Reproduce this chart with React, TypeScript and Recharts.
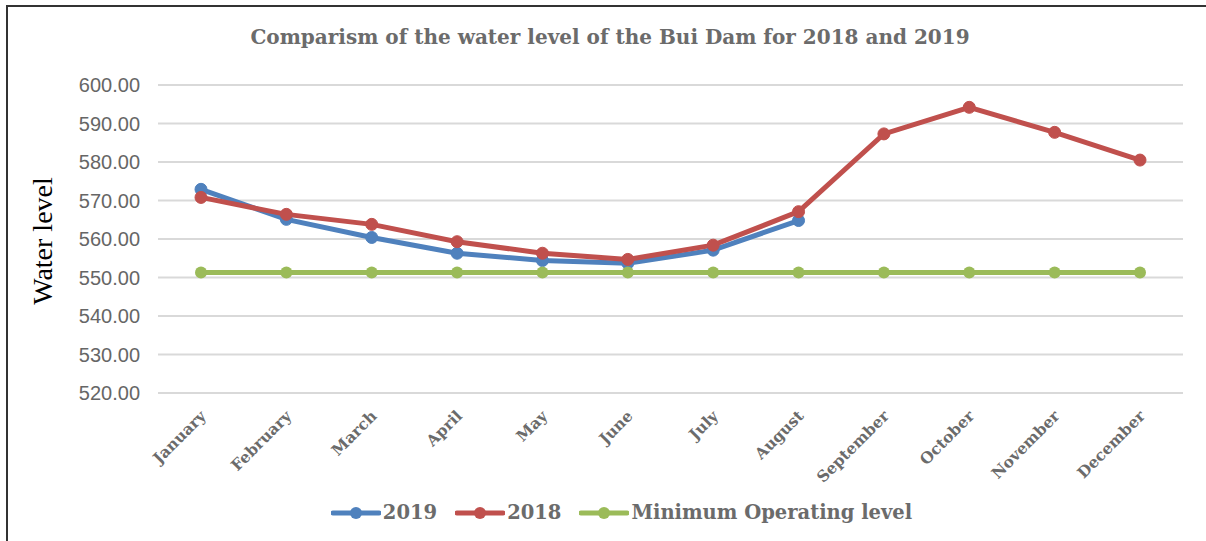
import { LineChart, Line, XAxis, YAxis, CartesianGrid, Legend } from "recharts";

const months = [
  "January", "February", "March", "April", "May", "June",
  "July", "August", "September", "October", "November", "December",
];
const level2019: (number | null)[] = [572.9, 565.1, 560.4, 556.3, 554.4, 553.7, 557.1, 564.8, null, null, null, null];
const level2018 = [570.8, 566.4, 563.8, 559.3, 556.3, 554.7, 558.4, 567.1, 587.3, 594.2, 587.7, 580.5];
const minOperating = [551.3, 551.3, 551.3, 551.3, 551.3, 551.3, 551.3, 551.3, 551.3, 551.3, 551.3, 551.3];
const yTicks = [520, 530, 540, 550, 560, 570, 580, 590, 600];
const seriesOrder = ["2019", "2018", "Minimum Operating level"];

const data = months.map((m, i) => ({
  month: m,
  y2019: level2019[i],
  y2018: level2018[i],
  minOp: minOperating[i],
}));

const serif = "'DejaVu Serif', serif";
const grey = "#6b6b6b";

function MonthTick(props: any) {
  const { x, y, payload } = props;
  return (
    <text
      x={x + 6}
      y={y + 16}
      transform={`rotate(-45, ${x + 6}, ${y + 16})`}
      textAnchor="end"
      fontFamily={serif}
      fontWeight="bold"
      fontSize={15.5}
      fill={grey}
    >
      {payload.value}
    </text>
  );
}

function YLabel(props: any) {
  const { viewBox } = props;
  const cx = viewBox.x + 52;
  const cy = viewBox.y + viewBox.height / 2 + 2;
  return (
    <text
      x={cx}
      y={cy}
      transform={`rotate(-90, ${cx}, ${cy})`}
      textAnchor="middle"
      fontFamily="'Liberation Serif', serif"
      fontSize={28}
      fill="#000"
    >
      Water level
    </text>
  );
}

function LegendRow(props: any) {
  const items = [...(props.payload || [])].sort(
    (a: any, b: any) => seriesOrder.indexOf(a.value) - seriesOrder.indexOf(b.value)
  );
  return (
    <div style={{ display: "flex", justifyContent: "center", alignItems: "center", paddingLeft: 37 }}>
      {items.map((p: any, i: number) => (
        <div
          key={p.value}
          style={{ display: "flex", alignItems: "center", marginRight: i < items.length - 1 ? 18 : 0 }}
        >
          <svg width={50} height={16}>
            <line x1={2} y1={8} x2={48} y2={8} stroke={p.color} strokeWidth={5} strokeLinecap="round" />
            <circle cx={25} cy={8} r={6} fill={p.color} />
          </svg>
          <span style={{ fontFamily: serif, fontWeight: "bold", fontSize: 19.5, color: grey, marginLeft: 2 }}>
            {p.value}
          </span>
        </div>
      ))}
    </div>
  );
}

export default function App() {
  return (
    <div style={{ position: "absolute", left: 0, top: 0, width: 1206, height: 541, background: "#fff" }}>
      <div style={{ position: "absolute", left: 6, top: 5, width: 1200, height: 2, background: "#333" }} />
      <div style={{ position: "absolute", left: 6, top: 5, width: 2, height: 536, background: "#333" }} />
      <div
        style={{
          position: "absolute",
          left: 0,
          top: 25,
          width: 1220,
          textAlign: "center",
          fontFamily: serif,
          fontWeight: "bold",
          fontSize: 20,
          color: grey,
        }}
      >
        Comparism of the water level of the Bui Dam for 2018 and 2019
      </div>
      <LineChart
        width={1206}
        height={541}
        data={data}
        margin={{ top: 85, right: 23, bottom: 10, left: 0 }}
        style={{ position: "absolute", left: 0, top: 0 }}
      >
        <CartesianGrid vertical={false} stroke="#d9d9d9" strokeWidth={2} />
        <XAxis
          dataKey="month"
          axisLine={false}
          tickLine={false}
          interval={0}
          height={138}
          padding={{ left: 43, right: 43 }}
          tick={<MonthTick />}
        />
        <YAxis
          domain={[520, 600]}
          ticks={yTicks}
          width={158}
          axisLine={false}
          tickLine={false}
          tickMargin={12}
          tickFormatter={(v) => v.toFixed(2)}
          tick={{ fontFamily: "'Liberation Sans', Arial, sans-serif", fontSize: 20, fill: "#666" }}
          label={<YLabel />}
        />
        <Legend
          verticalAlign="middle"
          align="center"
          content={<LegendRow />}
          wrapperStyle={{ top: 501, left: 0, width: 1206 }}
        />
        <Line
          name="2019"
          dataKey="y2019"
          stroke="#4f81bd"
          strokeWidth={5}
          dot={{ r: 6, fill: "#4f81bd", stroke: "#4f81bd", strokeWidth: 1 }}
          activeDot={false}
          isAnimationActive={false}
        />
        <Line
          name="2018"
          dataKey="y2018"
          stroke="#c0504d"
          strokeWidth={5}
          dot={{ r: 6, fill: "#c0504d", stroke: "#c0504d", strokeWidth: 1 }}
          activeDot={false}
          isAnimationActive={false}
        />
        <Line
          name="Minimum Operating level"
          dataKey="minOp"
          stroke="#9bbb59"
          strokeWidth={5}
          dot={{ r: 6, fill: "#9bbb59", stroke: "#9bbb59", strokeWidth: 0 }}
          activeDot={false}
          isAnimationActive={false}
        />
      </LineChart>
    </div>
  );
}
